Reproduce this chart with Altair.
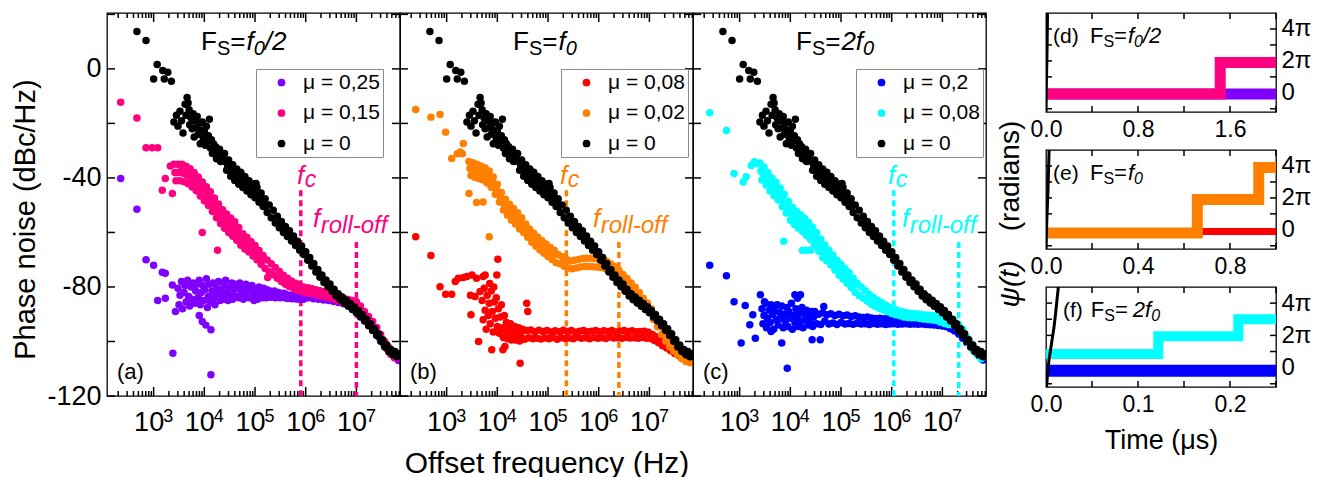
import altair as alt
import pandas as pd

FONT = "Liberation Sans"

# ---------------- data: phase noise spectra (log10 f [Hz], dBc/Hz) ----------------
BLACK_MU0 = [
    (2.67, 13.7), (2.85, 10.4), (3.00, -3.7), (3.07, 1.6), (3.18, -0.6), (3.21, -3.7), (3.28, -1.2), (3.35, -4.5),
    (3.40, -19.5), (3.45, -17.0), (3.48, -21.0), (3.52, -15.5), (3.55, -19.0), (3.58, -23.5), (3.62, -13.0), (3.64, -17.0),
    (3.66, -10.5), (3.68, -12.5), (3.70, -15.0), (3.71, -20.5), (3.74, -18.0), (3.76, -22.0), (3.78, -16.5), (3.80, -25.0),
    (3.82, -19.0), (3.84, -21.5), (3.86, -17.5), (3.88, -24.0), (3.90, -20.0), (3.92, -27.5), (3.94, -22.5), (3.96, -19.5),
    (3.98, -25.5), (4.00, -23.0), (4.02, -28.0), (4.04, -21.0), (4.06, -26.5), (4.08, -24.5), (4.10, -18.5), (4.12, -29.0),
    (4.14, -26.0), (4.16, -31.0), (4.18, -27.5), (4.20, -30.0), (4.22, -28.5), (4.24, -33.0), (4.26, -30.5), (4.28, -32.0),
    (4.30, -29.5), (4.32, -34.0), (4.34, -31.5), (4.36, -33.0),
    (4.40, -31.0), (4.44, -37.2), (4.48, -33.4), (4.52, -39.4), (4.56, -35.2), (4.60, -40.9), (4.64, -36.7), (4.68, -42.3),
    (4.72, -37.9), (4.76, -43.5), (4.80, -39.5), (4.84, -44.8), (4.88, -41.0), (4.92, -46.2), (4.96, -42.2), (5.00, -47.3),
    (5.02, -42.0), (5.04, -43.5), (5.08, -48.9), (5.12, -45.5), (5.16, -50.5), (5.20, -47.6), (5.24, -52.7), (5.28, -49.9),
    (5.32, -54.6), (5.36, -51.9), (5.40, -56.5), (5.44, -54.1), (5.48, -58.3), (5.52, -56.0), (5.56, -60.0), (5.60, -57.8),
    (5.64, -61.5), (5.68, -59.4), (5.72, -63.1), (5.76, -61.3), (5.80, -64.8), (5.84, -63.2), (5.88, -66.5), (5.92, -65.0),
    (5.96, -68.1), (6.00, -67.1), (6.04, -70.2), (6.08, -69.2), (6.12, -72.3), (6.16, -71.4), (6.20, -74.5), (6.24, -73.6),
    (6.28, -76.4), (6.32, -75.6), (6.36, -78.4), (6.40, -77.4), (6.44, -79.9), (6.48, -78.9), (6.52, -81.6), (6.56, -80.8),
    (6.60, -83.3), (6.64, -82.5), (6.68, -84.7), (6.72, -83.7), (6.76, -85.9), (6.80, -84.9), (6.84, -87.1), (6.88, -86.1),
    (6.92, -88.3), (6.96, -87.3), (7.00, -89.5), (7.04, -88.6), (7.08, -91.0), (7.12, -90.1), (7.16, -92.5), (7.20, -91.8),
    (7.24, -94.2), (7.28, -93.5), (7.32, -96.0), (7.36, -95.3), (7.40, -97.8), (7.44, -97.2), (7.48, -99.9), (7.52, -99.4),
    (7.56, -102.0), (7.60, -101.3), (7.64, -103.7), (7.68, -102.9), (7.72, -104.9), (7.76, -103.7), (7.80, -105.6), (7.84, -104.6),
]
BLACK_MU0_MID = [
    (4.42, -34.1), (4.46, -35.3), (4.50, -36.5), (4.54, -37.3), (4.58, -38.1), (4.62, -38.8), (4.66, -39.5), (4.70, -40.1),
    (4.74, -40.7), (4.78, -41.4), (4.82, -42.1), (4.86, -42.9), (4.90, -43.6), (4.94, -44.2), (4.98, -44.8), (5.02, -45.4),
    (5.06, -46.2), (5.10, -47.1), (5.14, -48.0), (5.18, -49.0), (5.22, -50.1),
]

A_MU015 = [
    (2.35, -12.2), (2.67, -18.0), (2.85, -28.9), (2.97, -28.9), (3.08, -28.9), (3.33, -35.6), (3.53, -35.4), (3.60, -36.0),
    (3.23, -40.2), (3.17, -44.5), (3.37, -45.7), (3.96, -60.0), (4.26, -66.5), (5.25, -76.5),
    (3.40, -35.0), (3.44, -41.0), (3.48, -35.0), (3.52, -41.0), (3.56, -35.0), (3.60, -41.4), (3.64, -35.7), (3.68, -42.1),
    (3.72, -36.6), (3.76, -43.3), (3.80, -38.0), (3.84, -44.7), (3.88, -39.7), (3.92, -46.6), (3.96, -41.5), (4.00, -48.4),
    (4.04, -43.2), (4.08, -50.1), (4.12, -45.1), (4.16, -52.3), (4.20, -47.4), (4.24, -54.6), (4.28, -49.6), (4.32, -56.7),
    (4.36, -51.7), (4.40, -58.5), (4.44, -53.2), (4.48, -60.0), (4.52, -54.7), (4.56, -61.4), (4.60, -56.1), (4.64, -62.9),
    (4.68, -58.2), (4.72, -64.7), (4.76, -60.5), (4.80, -66.1), (4.84, -61.8), (4.88, -67.2), (4.92, -63.3), (4.96, -68.6),
    (5.00, -64.8), (5.04, -70.0), (5.08, -66.6), (5.12, -71.7), (5.16, -68.5), (5.20, -73.2), (5.24, -70.1), (5.28, -74.4),
    (5.32, -71.5), (5.36, -75.5), (5.40, -72.9), (5.44, -76.8), (5.48, -74.3), (5.52, -78.0), (5.56, -75.7), (5.60, -79.0),
    (5.64, -76.8), (5.68, -79.9), (5.72, -77.8), (5.76, -80.5), (5.80, -78.6), (5.84, -81.2), (5.88, -79.4), (5.92, -81.7),
    (5.96, -80.0), (6.00, -82.1), (6.04, -80.3), (6.08, -82.3), (6.12, -80.6), (6.16, -82.6), (6.20, -81.0), (6.24, -83.0),
    (6.28, -81.4), (6.32, -83.3), (6.36, -81.7), (6.40, -83.7), (6.44, -82.0), (6.48, -84.0), (6.52, -82.4), (6.56, -84.4),
    (6.60, -82.9), (6.64, -85.0), (6.68, -83.5), (6.72, -85.6), (6.76, -84.2), (6.80, -86.2), (6.84, -84.6), (6.88, -86.7),
    (6.92, -85.0), (6.96, -87.0), (7.00, -85.4), (7.04, -87.6), (7.08, -87.0), (7.12, -89.6), (7.16, -89.0), (7.20, -91.6),
    (7.24, -90.8), (7.28, -93.3), (7.32, -92.7), (7.36, -95.4), (7.40, -94.9), (7.44, -97.7), (7.48, -97.4), (7.52, -100.4),
    (7.56, -100.1), (7.60, -102.7), (7.64, -102.2), (7.68, -104.8), (7.72, -103.8), (7.76, -105.9), (7.80, -104.9), (7.84, -106.0),
]
A_MU015_MID = [
    (3.42, -38.0), (3.46, -38.0), (3.50, -38.0), (3.54, -38.0), (3.58, -38.2), (3.62, -38.5), (3.66, -38.9), (3.70, -39.3),
    (3.74, -40.0), (3.78, -40.6), (3.82, -41.4), (3.86, -42.2), (3.90, -43.1), (3.94, -44.0), (3.98, -45.0), (4.02, -45.8),
    (4.06, -46.7), (4.10, -47.6), (4.14, -48.7), (4.18, -49.9), (4.22, -51.0), (4.26, -52.1), (4.30, -53.2), (4.34, -54.2),
    (4.38, -55.1), (4.42, -55.8), (4.46, -56.6), (4.50, -57.3), (4.54, -58.0), (4.58, -58.8), (4.62, -59.5), (4.66, -60.4),
    (4.70, -61.5), (4.74, -62.5), (4.78, -63.3), (4.82, -63.9), (4.86, -64.5), (4.90, -65.2), (4.94, -66.0), (4.98, -66.7),
    (5.02, -67.4), (5.06, -68.3), (5.10, -69.2), (5.14, -70.1),
]

A_MU025 = [
    (2.35, -40.2), (2.67, -51.5), (2.85, -70.0), (3.00, -72.0), (3.17, -74.6), (3.23, -75.0), (3.37, -79.3), (3.08, -85.0),
    (3.23, -84.1), (3.43, -89.0), (3.38, -104.3), (4.13, -112.2), (3.96, -92.7), (4.03, -94.0), (4.13, -95.7), (3.90, -90.5),
    (3.48, -80.5), (3.50, -86.5), (3.52, -83.0), (3.55, -78.0), (3.57, -88.0), (3.60, -82.0), (3.62, -79.5), (3.64, -85.5),
    (3.67, -77.5), (3.69, -83.5), (3.71, -87.0), (3.74, -80.0), (3.76, -84.5), (3.78, -78.5), (3.81, -86.0), (3.83, -81.5),
    (3.85, -79.0), (3.88, -84.0), (3.90, -77.5), (3.92, -86.5), (3.94, -82.0), (3.97, -79.5), (3.99, -85.0), (4.01, -81.0),
    (4.04, -77.0), (4.06, -87.5), (4.08, -83.5), (4.10, -79.0), (4.12, -85.5), (4.15, -81.5), (4.17, -78.5), (4.19, -84.0),
    (4.21, -86.5), (4.24, -80.5), (4.26, -82.5), (4.28, -78.0), (4.31, -85.0), (4.33, -81.0), (4.35, -83.5), (4.38, -79.5),
    (4.40, -84.5), (4.42, -77.5), (4.45, -82.0), (4.47, -85.0), (4.49, -80.0), (4.52, -83.0), (4.54, -78.5), (4.56, -84.5),
    (4.59, -81.0), (4.61, -79.0), (4.63, -83.5), (4.66, -80.5), (4.68, -84.0), (4.70, -78.5), (4.73, -82.5), (4.75, -80.0),
    (4.77, -84.5), (4.80, -81.5), (4.82, -79.0), (4.84, -83.5), (4.87, -80.5), (4.89, -84.0), (4.91, -81.0), (4.94, -79.5),
    (4.96, -83.0), (4.98, -85.0), (5.01, -80.5), (5.03, -82.5), (5.05, -84.5), (5.08, -80.0), (5.10, -83.0), (5.12, -81.5),
    (5.15, -84.0), (5.17, -80.5), (5.19, -82.5), (5.22, -84.0), (5.24, -81.0), (5.26, -83.0), (5.29, -81.5), (5.31, -83.8),
    (5.33, -82.0), (5.36, -83.5), (5.38, -81.5), (5.40, -84.0), (5.43, -82.0), (5.45, -83.5), (5.47, -82.0), (5.50, -84.0),
    (5.52, -82.5), (5.54, -83.8), (5.57, -82.3), (5.59, -84.0), (5.61, -82.8), (5.64, -84.2), (5.66, -83.0), (5.68, -84.0),
    (5.71, -83.0), (5.73, -84.3), (5.75, -83.2), (5.78, -84.2), (5.80, -83.4), (5.82, -84.4), (5.85, -83.5), (5.87, -84.4),
    (5.89, -83.7), (5.92, -84.5), (5.94, -83.8), (5.96, -84.5), (6.05, -84.0), (6.15, -84.3), (6.25, -84.5), (6.35, -84.8),
    (6.45, -85.0), (6.55, -85.3), (6.65, -85.7), (6.75, -86.2), (6.85, -86.8), (6.95, -87.5), (7.05, -88.3), (7.15, -90.3),
    (7.25, -92.5), (7.35, -95.3), (7.45, -98.5), (7.55, -101.5), (7.65, -104.0), (7.75, -106.0), (7.83, -107.0),
]

B_MU002 = [
    (2.39, -14.9), (2.69, -17.7), (2.87, -16.7), (2.98, -23.2), (3.10, -32.9), (3.21, -31.1), (3.27, -30.5), (3.31, -31.1),
    (3.33, -27.4), (3.44, -45.7), (3.59, -49.0), (3.72, -48.8), (3.84, -61.6),
    (3.44, -34.0), (3.48, -39.1), (3.52, -34.4), (3.56, -39.8), (3.60, -35.1), (3.64, -40.3), (3.68, -35.6), (3.72, -40.8),
    (3.76, -36.4), (3.80, -41.9), (3.84, -37.5), (3.88, -43.4), (3.92, -39.7), (3.96, -46.0), (4.00, -42.3), (4.04, -48.8),
    (4.08, -45.3), (4.12, -51.8), (4.16, -47.8), (4.20, -53.7), (4.24, -49.7), (4.28, -55.5), (4.32, -51.2), (4.36, -56.9),
    (4.40, -52.8), (4.44, -58.7), (4.48, -54.6), (4.52, -60.0), (4.56, -56.9), (4.60, -61.8), (4.64, -58.8), (4.68, -63.6),
    (4.72, -60.3), (4.76, -65.1), (4.80, -61.8), (4.84, -66.4), (4.88, -63.0), (4.92, -67.6), (4.96, -64.2), (5.00, -68.8),
    (5.04, -65.4), (5.08, -69.9), (5.12, -66.5), (5.16, -71.1), (5.20, -68.1), (5.24, -71.5), (5.28, -68.9), (5.32, -72.4),
    (5.36, -69.8), (5.40, -73.1), (5.44, -70.5), (5.48, -73.3), (5.52, -70.2), (5.56, -73.0), (5.60, -69.9), (5.64, -72.7),
    (5.68, -69.6), (5.72, -72.5), (5.76, -69.5), (5.80, -72.5), (5.84, -69.5), (5.88, -72.6), (5.92, -69.6), (5.96, -72.7),
    (6.00, -69.8), (6.04, -72.9), (6.08, -70.0), (6.12, -73.2), (6.16, -70.6), (6.20, -73.9), (6.24, -71.6), (6.28, -74.5),
    (6.32, -72.6), (6.36, -75.5), (6.40, -73.9), (6.44, -77.0), (6.48, -75.4), (6.52, -78.6), (6.56, -76.9), (6.60, -80.0),
    (6.64, -78.5), (6.68, -81.6), (6.72, -80.1), (6.76, -83.4), (6.80, -82.0), (6.84, -85.4), (6.88, -84.1), (6.92, -87.4),
    (6.96, -85.9), (7.00, -89.2), (7.04, -88.0), (7.08, -91.9), (7.12, -90.8), (7.16, -94.6), (7.20, -93.6), (7.24, -97.4),
    (7.28, -96.3), (7.32, -99.8), (7.36, -98.5), (7.40, -101.9), (7.44, -100.4), (7.48, -103.5), (7.52, -101.9), (7.56, -105.0),
    (7.60, -103.3), (7.64, -106.3), (7.68, -104.6), (7.72, -107.3), (7.76, -105.2), (7.80, -107.8), (7.84, -105.8),
]
B_MU002_MID = [
    (3.46, -36.5), (3.50, -36.8), (3.54, -37.1), (3.58, -37.5), (3.62, -37.7), (3.66, -37.9), (3.70, -38.2), (3.74, -38.6),
    (3.78, -39.1), (3.82, -39.7), (3.86, -40.4), (3.90, -41.5), (3.94, -42.8), (3.98, -44.1), (4.02, -45.5), (4.06, -47.0),
    (4.10, -48.5), (4.14, -49.8), (4.18, -50.8), (4.22, -51.7), (4.26, -52.6), (4.30, -53.3), (4.34, -54.0), (4.38, -54.8),
    (4.42, -55.7), (4.46, -56.6), (4.50, -57.5), (4.54, -58.4), (4.58, -59.3), (4.62, -60.3), (4.66, -61.2), (4.70, -62.0),
    (4.74, -62.7), (4.78, -63.5), (4.82, -64.1), (4.86, -64.7), (4.90, -65.3), (4.94, -65.9), (4.98, -66.5), (5.02, -67.1),
    (5.06, -67.6), (5.10, -68.2),
]

B_MU008 = [
    (2.39, -61.6), (2.69, -68.5), (2.87, -79.9), (2.98, -82.7), (3.10, -82.7), (3.17, -78.0), (3.23, -76.8), (3.33, -76.5),
    (3.40, -76.2), (3.50, -75.6), (3.59, -76.8), (3.72, -76.2), (3.76, -75.6), (3.48, -90.2), (3.47, -83.0), (3.56, -83.5),
    (3.66, -81.7), (3.63, -100.0), (3.89, -103.0), (4.11, -103.0), (4.15, -101.8), (4.01, -69.8), (3.99, -75.6), (4.45, -108.0),
    (4.58, -86.0), (4.60, -89.0), (3.93, -80.0), (3.85, -78.7),
    (3.70, -85.0), (3.72, -92.0), (3.74, -80.5), (3.76, -88.5), (3.78, -95.5), (3.80, -83.0), (3.82, -90.5), (3.84, -86.0),
    (3.86, -93.5), (3.88, -81.5), (3.90, -89.0), (3.92, -96.5), (3.94, -85.5), (3.96, -91.5), (3.98, -84.0), (4.00, -94.5),
    (4.02, -88.0), (4.04, -97.0), (4.06, -91.0), (4.08, -86.5), (4.10, -95.0), (4.12, -98.5), (4.14, -90.5), (4.16, -96.0),
    (4.18, -93.0), (4.20, -99.0), (4.22, -95.0), (4.24, -97.5), (4.26, -93.5), (4.28, -99.5), (4.30, -96.0), (4.32, -98.0),
    (4.34, -94.5), (4.36, -99.5), (4.38, -96.5), (4.40, -98.5), (4.42, -95.0), (4.44, -99.8), (4.46, -96.8), (4.48, -98.5),
    (4.50, -95.5), (4.54, -99.2), (4.58, -96.0), (4.62, -98.6), (4.66, -95.8), (4.70, -99.0), (4.74, -96.4), (4.78, -98.8),
    (4.82, -95.9), (4.86, -99.1), (4.90, -96.3), (4.94, -98.7), (4.98, -96.0), (5.02, -99.0), (5.06, -96.5), (5.10, -98.5),
    (5.14, -96.1), (5.18, -99.2), (5.22, -96.4), (5.26, -98.6), (5.30, -95.9), (5.34, -98.9), (5.38, -96.3), (5.42, -98.7),
    (5.46, -96.0), (5.50, -99.0), (5.54, -96.6), (5.58, -98.4), (5.62, -96.2), (5.66, -98.8), (5.70, -96.0), (5.74, -98.6),
    (5.78, -96.4), (5.82, -99.0), (5.86, -96.2), (5.90, -98.5), (5.94, -96.0), (5.98, -98.8), (6.02, -96.4), (6.06, -98.6),
    (6.10, -96.1), (6.14, -98.9), (6.18, -96.3), (6.22, -98.4), (6.26, -96.0), (6.30, -98.7), (6.34, -96.5), (6.38, -98.6),
    (6.42, -96.2), (6.46, -98.8), (6.50, -96.0), (6.54, -98.5), (6.58, -96.3), (6.62, -98.7), (6.66, -96.1), (6.70, -98.6),
    (6.74, -96.4), (6.78, -98.8), (6.82, -96.3), (6.86, -98.5), (6.90, -96.2), (6.94, -98.8), (6.98, -96.6), (7.02, -98.9),
    (7.06, -97.4), (7.10, -99.6), (7.14, -98.3), (7.18, -100.5), (7.22, -99.4), (7.26, -101.6), (7.30, -100.3), (7.34, -102.4),
    (7.38, -101.3), (7.42, -103.4), (7.46, -102.3), (7.50, -104.4), (7.54, -103.2), (7.58, -105.2), (7.62, -104.0), (7.66, -106.0),
    (7.70, -104.6), (7.74, -106.5), (7.78, -105.3), (7.82, -107.0), (7.85, -106.0),
]

C_MU008 = [
    (2.41, -16.1), (2.74, -22.6), (2.89, -38.4), (3.07, -41.5), (3.13, -39.6), (3.23, -35.4), (3.29, -34.1), (3.36, -34.8),
    (3.87, -63.2), (4.24, -66.5), (4.31, -66.5), (4.40, -66.5),
    (3.40, -34.5), (3.44, -40.8), (3.48, -36.0), (3.52, -42.6), (3.56, -38.1), (3.60, -44.8), (3.64, -40.1), (3.68, -46.5),
    (3.72, -41.6), (3.76, -48.1), (3.80, -43.7), (3.84, -50.5), (3.88, -46.0), (3.92, -52.9), (3.96, -48.6), (4.00, -55.5),
    (4.04, -50.8), (4.08, -57.1), (4.12, -52.2), (4.16, -58.5), (4.20, -53.5), (4.24, -59.7), (4.28, -54.8), (4.32, -61.1),
    (4.36, -56.3), (4.40, -62.6), (4.44, -58.1), (4.48, -64.7), (4.52, -60.1), (4.56, -66.9), (4.60, -62.4), (4.64, -69.2),
    (4.68, -64.6), (4.72, -70.4), (4.76, -66.5), (4.80, -71.9), (4.84, -68.3), (4.88, -73.8), (4.92, -70.2), (4.96, -75.6),
    (5.00, -71.7), (5.04, -77.1), (5.08, -73.3), (5.12, -78.6), (5.16, -74.8), (5.20, -80.2), (5.24, -76.8), (5.28, -81.9),
    (5.32, -78.6), (5.36, -83.2), (5.40, -80.0), (5.44, -84.1), (5.48, -81.4), (5.52, -85.2), (5.56, -82.8), (5.60, -86.3),
    (5.64, -83.9), (5.68, -87.2), (5.72, -84.9), (5.76, -87.9), (5.80, -85.7), (5.84, -88.5), (5.88, -86.6), (5.92, -89.1),
    (5.96, -87.4), (6.00, -89.7), (6.04, -88.0), (6.08, -90.2), (6.12, -88.6), (6.16, -90.6), (6.20, -89.0), (6.24, -91.0),
    (6.28, -89.4), (6.32, -91.2), (6.36, -89.7), (6.40, -91.3), (6.44, -89.7), (6.48, -91.3), (6.52, -89.9), (6.56, -91.6),
    (6.60, -90.2), (6.64, -91.8), (6.68, -90.3), (6.72, -91.9), (6.76, -90.4), (6.80, -92.1), (6.84, -90.6), (6.88, -92.3),
    (6.92, -91.0), (6.96, -92.9), (7.00, -91.6), (7.04, -93.4), (7.08, -92.0), (7.12, -93.8), (7.16, -92.5), (7.20, -94.0),
    (7.24, -92.8), (7.28, -94.4), (7.32, -93.8), (7.36, -95.6), (7.40, -95.6), (7.44, -97.8), (7.48, -98.4), (7.52, -100.6),
    (7.56, -100.8), (7.60, -103.1), (7.64, -102.6), (7.68, -104.8), (7.72, -104.0), (7.76, -106.3), (7.80, -105.6),
]
C_MU008_MID = [
    (3.42, -37.5), (3.46, -38.4), (3.50, -39.3), (3.54, -40.3), (3.58, -41.4), (3.62, -42.5), (3.66, -43.3), (3.70, -44.0),
    (3.74, -44.8), (3.78, -45.9), (3.82, -47.1), (3.86, -48.2), (3.90, -49.4), (3.94, -50.8), (3.98, -52.0), (4.02, -53.1),
    (4.06, -54.0), (4.10, -54.6), (4.14, -55.4), (4.18, -56.0), (4.22, -56.6), (4.26, -57.2), (4.30, -58.0), (4.34, -58.7),
    (4.38, -59.4), (4.42, -60.3), (4.46, -61.4), (4.50, -62.4), (4.54, -63.5), (4.58, -64.6), (4.62, -65.8), (4.66, -66.9),
    (4.70, -67.8), (4.74, -68.5), (4.78, -69.2), (4.82, -70.1), (4.86, -71.0), (4.90, -72.0), (4.94, -72.9), (4.98, -73.7),
    (5.02, -74.4), (5.06, -75.2), (5.10, -76.0), (5.14, -76.7), (5.18, -77.5), (5.22, -78.3), (5.26, -79.3),
]

C_MU02 = [
    (2.41, -72.0), (2.74, -75.9), (2.89, -85.4), (3.03, -100.6), (3.11, -86.8), (3.20, -93.9), (3.26, -90.2), (3.31, -98.8),
    (3.41, -82.9), (3.49, -85.4), (3.62, -96.3), (3.83, -100.6), (3.94, -109.8), (4.09, -82.9), (4.14, -84.1), (4.20, -82.9),
    (4.43, -99.4), (4.59, -99.4), (4.66, -87.2),
    (3.44, -88.0), (3.46, -93.5), (3.48, -90.5), (3.51, -86.0), (3.53, -95.0), (3.55, -91.5), (3.58, -88.5), (3.60, -93.0),
    (3.62, -86.5), (3.65, -90.0), (3.67, -95.5), (3.69, -88.0), (3.72, -92.0), (3.74, -86.5), (3.76, -94.0), (3.79, -89.5),
    (3.81, -91.5), (3.83, -87.0), (3.86, -95.0), (3.88, -90.0), (3.90, -92.5), (3.93, -87.5), (3.95, -94.5), (3.97, -89.0),
    (4.00, -91.5), (4.02, -86.0), (4.04, -95.5), (4.07, -90.5), (4.09, -93.0), (4.11, -88.0), (4.14, -91.0), (4.16, -94.5),
    (4.18, -89.0), (4.21, -92.5), (4.23, -87.5), (4.25, -95.0), (4.28, -90.0), (4.30, -92.0), (4.32, -88.5), (4.35, -94.0),
    (4.37, -90.5), (4.39, -92.5), (4.42, -89.0), (4.44, -94.5), (4.46, -91.0),
    (4.48, -89.0), (4.52, -93.5), (4.56, -90.0), (4.60, -93.8), (4.64, -89.5), (4.68, -92.5), (4.72, -90.2), (4.76, -93.6),
    (4.80, -89.8), (4.84, -93.2), (4.88, -90.5), (4.92, -93.8), (4.96, -90.0), (5.00, -93.0), (5.04, -90.6), (5.08, -93.6),
    (5.12, -90.3), (5.16, -93.4), (5.20, -90.8), (5.24, -93.7), (5.28, -90.6), (5.32, -93.3), (5.36, -91.0), (5.40, -93.6),
    (5.44, -91.2), (5.48, -93.5), (5.52, -91.0), (5.56, -93.8), (5.60, -91.4), (5.64, -93.4), (5.68, -91.6), (5.72, -93.7),
    (5.76, -91.5), (5.80, -93.5), (5.84, -91.7), (5.88, -93.8), (5.92, -91.6), (5.96, -93.6), (6.00, -91.8), (6.04, -93.5),
    (6.08, -91.9), (6.12, -93.7), (6.16, -92.0), (6.20, -93.6), (6.24, -92.0), (6.28, -93.5), (6.32, -92.1), (6.36, -93.7),
    (6.40, -92.2), (6.44, -93.6), (6.48, -92.1), (6.52, -93.7), (6.56, -92.3), (6.60, -93.6), (6.64, -92.2), (6.68, -93.8),
    (6.72, -92.4), (6.76, -93.9), (6.80, -92.5), (6.84, -94.0), (6.88, -92.6), (6.92, -94.1), (6.96, -92.8), (7.00, -94.3),
    (7.04, -93.2), (7.08, -94.6), (7.12, -93.8), (7.16, -95.3), (7.20, -94.6), (7.24, -96.2), (7.28, -95.6), (7.32, -97.3),
    (7.36, -97.0), (7.40, -98.8), (7.44, -98.7), (7.48, -100.4), (7.52, -100.3), (7.56, -102.0), (7.60, -101.9), (7.64, -103.6),
    (7.68, -103.5), (7.72, -105.2), (7.76, -105.2), (7.80, -106.8), (7.84, -106.4),
]

# corner frequencies (Hz) for the dashed markers, per panel
FC = [8.0e5, 2.3e5, 1.1e6]
FROLL = [1.0e7, 2.5e6, 2.1e7]

# ---------------- data: phase traces (time in us, psi in units of pi) ----------------
T_BLACK = [0.0005, 0.0015, 0.0033, 0.006, 0.0087, 0.0105, 0.0123, 0.0142]
P_BLACK = [-1.3, -0.5, 0.5, 1.5, 2.5, 3.4, 4.4, 5.4]
D_PURPLE_T, D_PURPLE_P = [0.0, 2.0], [-0.08, -0.08]
D_MAGENTA_T, D_MAGENTA_P = [0.0, 1.515, 2.0], [-0.08, 1.9, 1.9]
E_RED_T, E_RED_P = [0.0, 1.0], [-0.1, -0.1]
E_ORANGE_T, E_ORANGE_P = [0.0, 0.658, 0.925, 1.0], [-0.2, 1.9, 3.9, 3.9]
F_BLUE_T, F_BLUE_P = [0.0, 0.25], [-0.2, -0.2]
F_CYAN_T, F_CYAN_P = [0.0, 0.122, 0.209, 0.25], [0.85, 1.95, 3.0, 3.0]

PURPLE, MAGENTA, BLACK = "#8000ff", "#ff0080", "#000000"
RED, ORANGE = "#ff0000", "#ff8000"
BLUE, CYAN = "#0000ff", "#00ffff"

# ---------------- helpers ----------------
W, H = 293, 383
LMIN, LMAX = 2.08, 7.86
FMIN, FMAX = 10 ** LMIN, 10 ** LMAX
DB_LO, DB_HI = -120, 20.5
XS = alt.Scale(type="log", domain=[FMIN, FMAX], nice=False)
YS = alt.Scale(domain=[DB_LO, DB_HI], nice=False, zero=False)
MAJ = [1e3, 1e4, 1e5, 1e6, 1e7]
XMINOR = [k * 10 ** n for n in range(2, 8) for k in range(2, 10) if FMIN <= k * 10 ** n <= FMAX]
YTICKS = list(range(-120, 21, 20))
ONE = pd.DataFrame({"z": [0]})
GHOST = pd.DataFrame({"f": [1e3], "db": [0.0]})
TICK = "black"
TW = 1.5

CW = {"F": .611, "S": .667, "=": .584, "f": .278, "0": .556, "/": .278, "2": .556, "(": .333, ")": .333,
      "a": .556, "b": .556, "c": .5, "d": .556, "e": .556, "r": .333, "o": .556, "l": .222, "-": .333, " ": .278}


def tw(s, size):
    return sum(CW.get(ch, 0.556) for ch in s) * size


def rich(pieces, x0, y0, color="black"):
    out = []
    x = x0
    for text, size, italic, dy, gap in pieces:
        x += gap
        out.append(alt.Chart(ONE).mark_text(
            text=text, align="left", baseline="alphabetic", fontSize=size,
            fontStyle="italic" if italic else "normal", font=FONT, color=color
        ).encode(x=alt.value(x), y=alt.value(y0 + dy)))
        x += tw(text, size)
    return out


def tick_rules(pos_values, along, other_scale, pos_scale, ends):
    """Inward tick marks drawn as short rules; ends = list of (start, end) in the other axis' units."""
    rows = []
    for a, b in ends:
        for v in pos_values:
            rows.append({"v": v, "a": a, "b": b})
    d = pd.DataFrame(rows)
    base = alt.Chart(d).mark_rule(color=TICK, strokeWidth=TW)
    if along == "x":
        return base.encode(x=alt.X("v:Q", scale=pos_scale, axis=None),
                           y=alt.Y("a:Q", scale=other_scale, axis=None), y2="b:Q")
    return base.encode(y=alt.Y("v:Q", scale=pos_scale, axis=None),
                       x=alt.X("a:Q", scale=other_scale, axis=None), x2="b:Q")


def fs_title(rest, x0, y0, big=26, small=20, sub=5):
    p = [("F", big, False, 0, 0), ("S", small, False, sub, 0), ("=", big, False, 0, 0)]
    p += rest(big, small, sub)
    return rich(p, x0, y0)


DB_PER_PX = (DB_HI - DB_LO) / H
DEC_PER_PX = (LMAX - LMIN) / W


def freq_ticks():
    out = []
    for vals, L in ((MAJ, 9), (XMINOR, 5)):
        out.append(tick_rules(vals, "x", YS, XS, [(DB_LO, DB_LO + L * DB_PER_PX), (DB_HI, DB_HI - L * DB_PER_PX)]))
    k = 10 ** (8 * DEC_PER_PX)
    out.append(tick_rules(YTICKS, "y", XS, YS, [(FMIN, FMIN * k), (FMAX / k, FMAX)]))
    return out


def freq_panel(series, legend_x, fc, froll, line_color, title_layers, tag, fc_x, froll_x, show_y, show_xtitle):
    rows = []
    for label, color, pts in series:
        for lf, db in pts:
            rows.append({"f": 10 ** lf, "db": db, "series": label})
    df = pd.DataFrame(rows)
    dom = [s[0] for s in series]
    rng = [s[1] for s in series]

    if show_y:
        yaxis = alt.Axis(orient="left", values=[-120, -80, -40, 0], tickSize=0, domain=False,
                         labelExpr="'' + datum.value", labelFontSize=27, labelPadding=6, labelFont=FONT,
                         title="Phase noise (dBc/Hz)", titleFontSize=29, titleFont=FONT, titleFontWeight="normal",
                         titleAngle=270, titleBaseline="alphabetic", titleAlign="center", titleX=-73, titleY=206)
    else:
        yaxis = None

    pts = alt.Chart(df).mark_circle(size=56, opacity=1, clip=True).encode(
        x=alt.X("f:Q", scale=XS, axis=None),
        y=alt.Y("db:Q", scale=YS, axis=yaxis),
        color=alt.Color("series:N", scale=alt.Scale(domain=dom, range=rng), legend=alt.Legend(
            orient="none", legendX=legend_x, legendY=56, title=None, padding=3,
            strokeColor="#8a8a8a", fillColor="white", labelFont=FONT, labelFontSize=21, labelColor="black",
            symbolType="circle", symbolSize=60, symbolOffset=12, labelOffset=11, rowPadding=8.5,
            symbolStrokeWidth=0)),
    )

    xt = dict(title="Offset frequency (Hz)", titleFontSize=30, titleFont=FONT, titleFontWeight="normal",
              titleBaseline="alphabetic", titleY=76) if show_xtitle else dict(title=None)
    g_ten = alt.Chart(GHOST).mark_point(opacity=0).encode(
        x=alt.X("f:Q", scale=XS, axis=alt.Axis(
            orient="bottom", values=MAJ, tickSize=0, domain=False, labelExpr="'10'", labelFontSize=27,
            labelFont=FONT, labelOffset=-5, labelBaseline="alphabetic", labelPadding=34, labelFlush=False,
            labelOverlap=False, **xt)),
        y=alt.Y("db:Q", scale=YS, axis=None))
    g_exp = alt.Chart(GHOST).mark_point(opacity=0).encode(
        x=alt.X("f:Q", scale=XS, axis=alt.Axis(
            orient="bottom", values=MAJ, tickSize=0, domain=False,
            labelExpr="'' + round(log(datum.value)/LN10)", labelFontSize=18, labelFont=FONT, labelOffset=14,
            labelBaseline="alphabetic", labelPadding=25, labelFlush=False, labelOverlap=False, title=None)),
        y=alt.Y("db:Q", scale=YS, axis=None))

    rules_df = pd.DataFrame({"f": [fc, froll], "top": [-44.5, -63.5], "bot": [-120, -120]})
    rules = alt.Chart(rules_df).mark_rule(color=line_color, strokeWidth=3.5, strokeDash=[6, 4]).encode(
        x=alt.X("f:Q", scale=XS, axis=None),
        y=alt.Y("top:Q", scale=YS, axis=None), y2="bot:Q")

    texts = []
    texts += title_layers
    texts += rich([(tag, 22, False, 0, 0)], 10, 366)
    texts += rich([("f", 26, True, 0, 0), ("c", 23, True, 3, 0.5)], fc_x, 171, line_color)
    texts += rich([("f", 26, True, 0, 0), ("roll-off", 24, True, 6, 0.5)], froll_x, 214, line_color)

    return alt.layer(*freq_ticks(), g_ten, g_exp, rules, pts, *texts).resolve_axis(
        x="independent", y="independent").properties(width=W, height=H)


title_a = fs_title(lambda b, s, d: [("f", b, True, 0, 1), ("0", s, True, d, 0), ("/2", b, True, 0, 0)], 94, 37)
title_b = fs_title(lambda b, s, d: [("f", b, True, 0, 1), ("0", s, True, d, 0)], 113, 37)
title_c = fs_title(lambda b, s, d: [("2f", b, True, 0, 1), ("0", s, True, d, 0)], 103, 37)

pa = freq_panel([("μ = 0,25", PURPLE, A_MU025), ("μ = 0,15", MAGENTA, A_MU015 + A_MU015_MID),
                 ("μ = 0", BLACK, BLACK_MU0 + BLACK_MU0_MID)],
                149, FC[0], FROLL[0], MAGENTA, title_a, "(a)", 190, 206, True, False)
pb = freq_panel([("μ = 0,08", RED, B_MU008), ("μ = 0,02", ORANGE, B_MU002 + B_MU002_MID),
                 ("μ = 0", BLACK, BLACK_MU0 + BLACK_MU0_MID)],
                161, FC[1], FROLL[1], ORANGE, title_b, "(b)", 160, 193, False, True)
pc = freq_panel([("μ = 0,2", BLUE, C_MU02), ("μ = 0,08", CYAN, C_MU008 + C_MU008_MID),
                 ("μ = 0", BLACK, BLACK_MU0 + BLACK_MU0_MID)],
                163, FC[2], FROLL[2], CYAN, title_c, "(c)", 195, 209, False, False)

# ---------------- right column ----------------
W2 = 230
P_LO, P_HI = -1.2, 5.0
PS = alt.Scale(domain=[P_LO, P_HI], nice=False, zero=False)


def phase_panel(traces, tmax, lab_vals, minor_step, h, tag_layers, show_time, extra=()):
    ts = alt.Scale(domain=[0, tmax], nice=False, zero=False)
    gdf = pd.DataFrame({"t": [0.0], "psi": [0.0]})
    minor = [round(i * minor_step, 4) for i in range(1, int(round(tmax / minor_step)) + 1)]
    xt = dict(title="Time (μs)", titleFontSize=27, titleFont=FONT, titleFontWeight="normal",
              titleBaseline="alphabetic", titleY=61) if show_time else dict(title=None)
    g_lab = alt.Chart(gdf).mark_point(opacity=0).encode(
        x=alt.X("t:Q", scale=ts, axis=alt.Axis(orient="bottom", values=lab_vals, format=".1f", tickSize=0,
                                               domain=False, labelFontSize=23, labelFont=FONT,
                                               labelBaseline="alphabetic", labelPadding=24, labelFlush=False,
                                               labelOverlap=False, **xt)),
        y=alt.Y("psi:Q", scale=PS, axis=alt.Axis(orient="right", values=[0, 2, 4], tickSize=0, domain=False,
                                                 labelExpr="datum.value == 0 ? '0' : datum.value + 'π'",
                                                 labelFontSize=24, labelFont=FONT, labelPadding=5, title=None)))
    pp = (P_HI - P_LO) / h
    tp = tmax / W2
    ticks = [
        tick_rules(minor, "x", PS, ts, [(P_LO, P_LO + 6 * pp), (P_HI, P_HI - 6 * pp)]),
        tick_rules([-1, 0, 1, 2, 3, 4], "y", ts, PS, [(0, 6 * tp), (tmax - 6 * tp, tmax)]),
    ]
    lines = []
    for color, width, t, p, interp in traces:
        d = pd.DataFrame({"t": t, "psi": p})
        lines.append(alt.Chart(d).mark_line(color=color, strokeWidth=width, interpolate=interp, clip=True).encode(
            x=alt.X("t:Q", scale=ts, axis=None), y=alt.Y("psi:Q", scale=PS, axis=None)))
    return alt.layer(*ticks, g_lab, *lines, *tag_layers, *extra).resolve_axis(
        x="independent", y="independent").properties(width=W2, height=h)


def tag_title(tag, tag_x, gap, rest):
    p = [(tag, 21, False, 0, 0), ("F", 22, False, 0, gap), ("S", 16, False, 4, 0), ("=", 22, False, 0, 0)]
    p += rest
    return rich(p, tag_x, 30)


psi_title = [
    alt.Chart(ONE).mark_text(text="(radians)", angle=270, align="center", baseline="alphabetic", fontSize=28,
                             font=FONT, color="black").encode(x=alt.value(-27), y=alt.value(26)),
    alt.Chart(ONE).mark_text(text="ψ(t)", angle=270, align="center", baseline="alphabetic", fontSize=28,
                             fontStyle="italic", font=FONT, color="black").encode(x=alt.value(-27), y=alt.value(134)),
]

pdp = phase_panel([(PURPLE, 11, D_PURPLE_T, D_PURPLE_P, "step-after"),
                   (MAGENTA, 11, D_MAGENTA_T, D_MAGENTA_P, "step-after"),
                   (BLACK, 3, T_BLACK, P_BLACK, "linear")],
                  2.0, [0.0, 0.8, 1.6], 0.4, 99,
                  tag_title("(d)", 7, 11.3, [("f", 22, True, 0, 1), ("0", 16, True, 4, 0), ("/2", 22, True, 0, 0)]),
                  False)
pep = phase_panel([(RED, 7, E_RED_T, E_RED_P, "step-after"),
                   (ORANGE, 11, E_ORANGE_T, E_ORANGE_P, "step-after"),
                   (BLACK, 3, T_BLACK, P_BLACK, "linear")],
                  1.0, [0.0, 0.4, 0.8], 0.2, 99,
                  tag_title("(e)", 7, 11.3, [("f", 22, True, 0, 1), ("0", 16, True, 4, 0)]),
                  False, psi_title)
pfp = phase_panel([(BLUE, 12, F_BLUE_T, F_BLUE_P, "step-after"),
                   (CYAN, 10, F_CYAN_T, F_CYAN_P, "step-after"),
                   (BLACK, 3, T_BLACK, P_BLACK, "linear")],
                  0.25, [0.0, 0.1, 0.2], 0.05, 100,
                  tag_title("(f)", 17, 8, [("2f", 22, True, 0, 5), ("0", 16, True, 4, 0)]),
                  True)

abc = alt.hconcat(pa, pb, pc, spacing=0, bounds="flush").resolve_scale(color="independent")
right = alt.vconcat(pdp, pep, pfp, spacing=38, bounds="flush")

chart = alt.hconcat(abc, right, spacing=8).resolve_scale(color="independent").properties(
    padding={"left": 2, "top": 3, "right": 2, "bottom": 0}
).configure_view(stroke="black", strokeWidth=1.3).configure_axis(
    labelColor="black", titleColor="black", grid=False
)

chart.save("out.html", embed_options={"renderer": "svg", "actions": False})
